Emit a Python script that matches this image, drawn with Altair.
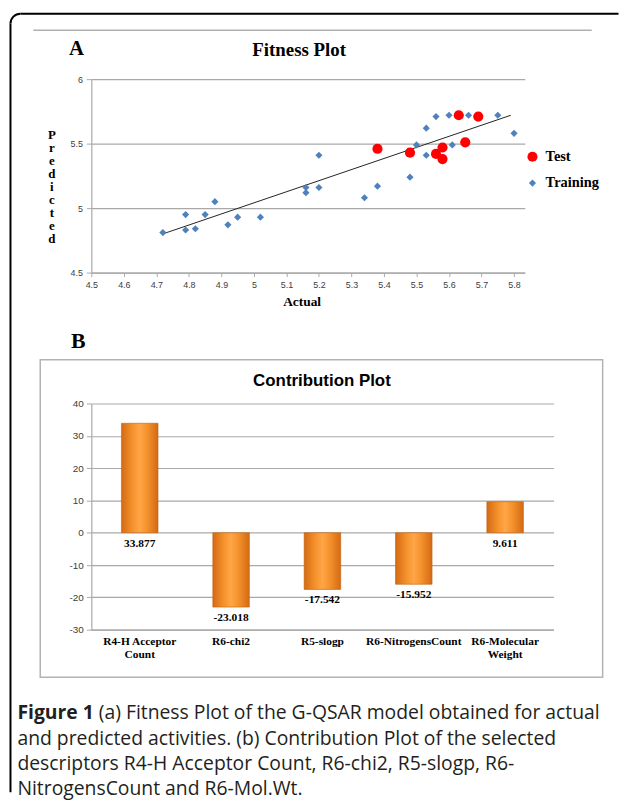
import altair as alt
import pandas as pd

# ---------------- data ----------------
train_actual = [4.72, 4.79, 4.79, 4.82, 4.85, 4.88, 4.92, 4.95, 5.02, 5.16, 5.16, 5.20, 5.20,
                5.34, 5.38, 5.48, 5.50, 5.53, 5.53, 5.56, 5.60, 5.61, 5.66, 5.75, 5.80]
train_pred = [4.81, 4.95, 4.83, 4.84, 4.95, 5.05, 4.87, 4.93, 4.93, 5.16, 5.12, 5.41, 5.16,
              5.08, 5.17, 5.24, 5.49, 5.62, 5.41, 5.71, 5.72, 5.49, 5.72, 5.72, 5.58]
test_actual = [5.38, 5.48, 5.56, 5.58, 5.58, 5.63, 5.65, 5.69]
test_pred = [5.46, 5.43, 5.42, 5.47, 5.38, 5.72, 5.51, 5.71]
trend_actual = [4.72, 5.79]
trend_pred = [4.80, 5.72]
x_ticks_a = [4.5, 4.6, 4.7, 4.8, 4.9, 5.0, 5.1, 5.2, 5.3, 5.4, 5.5, 5.6, 5.7, 5.8]
y_ticks_a = [4.5, 5.0, 5.5, 6.0]
series_names = ["Test", "Training"]

descriptors = ["R4-H Acceptor Count", "R6-chi2", "R5-slogp", "R6-NitrogensCount", "R6-Molecular Weight"]
contributions = [33.877, -23.018, -17.542, -15.952, 9.611]
y_ticks_b = [-30, -20, -10, 0, 10, 20, 30, 40]

caption_bold = "Figure 1"
caption_line1 = "(a) Fitness Plot of the G-QSAR model obtained for actual"
caption_rest = ["and predicted activities. (b) Contribution Plot of the selected",
                "descriptors R4-H Acceptor Count, R6-chi2, R5-slogp, R6-",
                "NitrogensCount and R6-Mol.Wt."]

SERIF = "Liberation Serif"
SANS = "Liberation Sans"
CAP = "Open Sans"
GRID = "#a9a9a9"
LAB = "#404040"

pts = pd.DataFrame({
    "actual": train_actual + test_actual,
    "predicted": train_pred + test_pred,
    "series": ["Training"] * len(train_actual) + ["Test"] * len(test_actual),
})
trend = pd.DataFrame({"actual": trend_actual, "predicted": trend_pred})
contrib = pd.DataFrame({"descriptor": descriptors, "contribution": contributions})
deco = pd.DataFrame({"k": [0]})

W_A, H_A = 437, 195
W_B, H_B = 466, 228

# ---------------- panel A ----------------
xA = alt.X("actual:Q", scale=alt.Scale(domain=[4.5, 5.833], nice=False, zero=False),
           axis=alt.Axis(values=x_ticks_a, format="~g", grid=False, title=None,
                         domainColor=GRID, domainWidth=1.2, tickColor=GRID, tickSize=4,
                         labelFont=SANS, labelFontSize=9, labelColor=LAB, labelPadding=4,
                         labelFlush=False))
yA = alt.Y("predicted:Q", scale=alt.Scale(domain=[4.5, 6.0], nice=False, zero=False),
           axis=alt.Axis(values=y_ticks_a, format="~g", grid=True, gridColor=GRID, gridWidth=1.2,
                         title=None, domainColor=GRID, domainWidth=1.2, tickColor=GRID, tickSize=5,
                         labelFont=SANS, labelFontSize=9, labelColor=LAB, labelPadding=4,
                         labelFlush=False))

leg = alt.Legend(title=None, orient="none", legendX=437.5, legendY=71, padding=0,
                 labelFont=SERIF, labelFontSize=14.5, labelFontWeight="bold", labelColor="black",
                 symbolSize=100, rowPadding=11.5, labelOffset=6, symbolStrokeWidth=0)

line_a = alt.Chart(trend).mark_line(color="#222222", strokeWidth=1).encode(x=xA, y=yA)
points_a = alt.Chart(pts).mark_point(filled=True, opacity=1).encode(
    x=xA, y=yA,
    color=alt.Color("series:N", scale=alt.Scale(domain=series_names, range=["#FF0000", "#4F81BD"]), legend=leg),
    shape=alt.Shape("series:N", scale=alt.Scale(domain=series_names, range=["circle", "diamond"]), legend=leg),
    size=alt.Size("series:N", scale=alt.Scale(domain=series_names, range=[105, 52]), legend=None),
    order=alt.Order("order_key:Q"),
).transform_calculate(order_key="datum.series == 'Test' ? 1 : 0")

frame_left = alt.Chart(deco).mark_rule(color="black", strokeWidth=2).encode(
    x=alt.value(-81.5), y=alt.value(-56), y2=alt.value(719))
frame_top = alt.Chart(deco).mark_rule(color="black", strokeWidth=2).encode(
    x=alt.value(-71.5), x2=alt.value(531.5), y=alt.value(-66))
frame_corner = alt.Chart(deco).mark_arc(color="black").encode(
    x=alt.value(-71.5), y=alt.value(-56), theta=alt.value(4.712), theta2=alt.value(6.2832),
    radius=alt.value(11), radius2=alt.value(9))
gray_top = alt.Chart(deco).mark_rule(color="#b0b0b0", strokeWidth=1.5).encode(
    x=alt.value(-58.5), x2=alt.value(504.5), y=alt.value(-49.4))
label_a = alt.Chart(deco).mark_text(text="A", font=SERIF, fontSize=21, fontWeight="bold",
                                    align="left", baseline="alphabetic", color="black").encode(
    x=alt.value(-22.5), y=alt.value(-24.7))
title_a = alt.Chart(deco).mark_text(text="Fitness Plot", font=SERIF, fontSize=19, fontWeight="bold",
                                    align="center", baseline="alphabetic", color="black").encode(
    x=alt.value(209.5), y=alt.value(-23.5))
ytitle_a = alt.Chart(deco).mark_text(text="P\nr\ne\nd\ni\nc\nt\ne\nd", lineBreak="\n", lineHeight=13.1,
                                     font=SERIF, fontSize=13, fontWeight="bold", align="center",
                                     baseline="top", color="black").encode(
    x=alt.value(-39.8), y=alt.value(50))
xtitle_a = alt.Chart(deco).mark_text(text="Actual", font=SERIF, fontSize=13.5, fontWeight="bold",
                                     align="center", baseline="middle", color="black").encode(
    x=alt.value(212.5), y=alt.value(224.3))

chart_a = alt.layer(frame_left, frame_top, frame_corner, gray_top, label_a, title_a, ytitle_a,
                    xtitle_a, line_a, points_a).properties(width=W_A, height=H_A)

# ---------------- panel B ----------------
label_expr = ("datum.label == 'R4-H Acceptor Count' ? ['R4-H Acceptor', 'Count'] : "
              "datum.label == 'R6-Molecular Weight' ? ['R6-Molecular', 'Weight'] : datum.label")
xB = alt.X("descriptor:N", sort=descriptors,
           scale=alt.Scale(paddingInner=0.6, paddingOuter=0.33),
           axis=alt.Axis(title=None, labelAngle=0, labelExpr=label_expr, labelLineHeight=13.5,
                         labelFont=SERIF, labelFontSize=11.5, labelFontWeight="bold", labelColor="black",
                         labelPadding=6, ticks=False, domainColor=GRID, domainWidth=1.2, labelLimit=300))
scaleB = alt.Scale(domain=[-30, 40], nice=False)
axisB = alt.Axis(values=y_ticks_b, grid=True, gridColor=GRID, gridWidth=1.2, title=None,
                 labelExpr="'' + datum.value",
                 domainColor=GRID, domainWidth=1.2, tickColor=GRID, tickSize=5,
                 labelFont=SANS, labelFontSize=10, labelColor=LAB, labelPadding=3)
yB = alt.Y("contribution:Q", scale=scaleB, axis=axisB)

orange = alt.Gradient(
    gradient="linear", x1=0, x2=1, y1=0, y2=0,
    stops=[alt.GradientStop(offset=0, color="#D46A14"),
           alt.GradientStop(offset=0.3, color="#F5922C"),
           alt.GradientStop(offset=0.5, color="#FFA647"),
           alt.GradientStop(offset=0.7, color="#F5922C"),
           alt.GradientStop(offset=1, color="#D46A14")])

box_b = alt.Chart(deco).mark_rect(filled=False, stroke="#b3b3b3", strokeWidth=1.5).encode(
    x=alt.value(-51.5), x2=alt.value(515.5), y=alt.value(-44), y2=alt.value(276))
bars_b = alt.Chart(contrib).mark_bar(color=orange, stroke="#C0600F", strokeWidth=0.6).encode(x=xB, y=yB)
vals_b = alt.Chart(contrib).transform_calculate(
    label_y="min(datum.contribution, 0)",
    label_txt="'' + datum.contribution",
).mark_text(font=SERIF, fontSize=11.5, fontWeight="bold", baseline="top", dy=5, color="black").encode(
    x=xB, y=alt.Y("label_y:Q", scale=scaleB, axis=axisB),
    text="label_txt:N")
label_b = alt.Chart(deco).mark_text(text="B", font=SERIF, fontSize=22, fontWeight="bold",
                                    align="left", baseline="alphabetic", color="black").encode(
    x=alt.value(-20.5), y=alt.value(-56))
title_b = alt.Chart(deco).mark_text(text="Contribution Plot", font=SANS, fontSize=17, fontWeight="bold",
                                    align="center", baseline="middle", color="black").encode(
    x=alt.value(232.5), y=alt.value(-23))
cap_bold = alt.Chart(deco).mark_text(text=caption_bold, font=CAP, fontSize=19.5, fontWeight="bold",
                                     align="left", baseline="alphabetic", color="#231f20").encode(
    x=alt.value(-74.5), y=alt.value(318.5))
cap_l1 = alt.Chart(deco).mark_text(text=caption_line1, font=CAP, fontSize=19.5,
                                   align="left", baseline="alphabetic", color="#231f20").encode(
    x=alt.value(7.5), y=alt.value(318.5))
cap_rest = alt.Chart(deco).mark_text(text="\n".join(caption_rest), lineBreak="\n", lineHeight=25.3,
                                     font=CAP, fontSize=19.5, align="left", baseline="alphabetic",
                                     color="#231f20").encode(
    x=alt.value(-74.5), y=alt.value(343.8))

chart_b = alt.layer(box_b, bars_b, vals_b, label_b, title_b, cap_bold, cap_l1, cap_rest).properties(
    width=W_B, height=H_B)

chart = alt.vconcat(chart_a, chart_b, spacing=132, bounds="flush").properties(
    padding={"left": 1, "top": 1.5, "right": 0, "bottom": 0}
).configure_view(stroke=None)

chart.save("out.html", embed_options={"renderer": "svg", "actions": False})
